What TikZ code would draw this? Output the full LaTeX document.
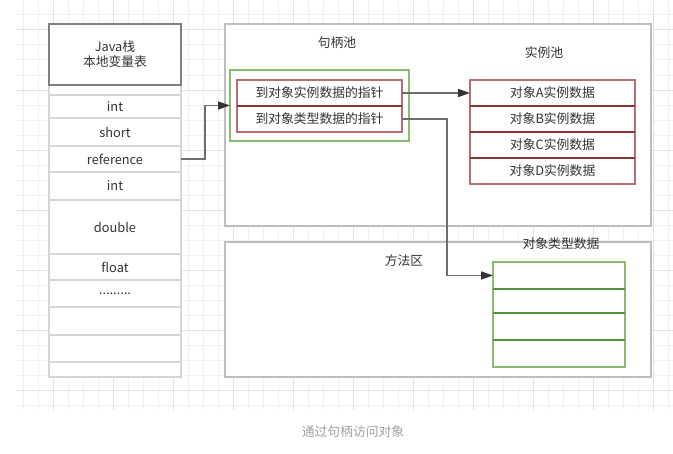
\documentclass[tikz,border=0pt]{standalone}
\usepackage{fontspec}
\setmainfont{Noto Sans CJK SC}
\usetikzlibrary{arrows.meta}
\definecolor{gridminor}{RGB}{240,240,240}
\definecolor{gridmajor}{RGB}{226,226,226}
\definecolor{txt}{RGB}{51,51,51}
\definecolor{headc}{RGB}{128,128,128}
\definecolor{rowc}{RGB}{214,214,214}
\definecolor{poolc}{RGB}{190,190,190}
\definecolor{greenc}{RGB}{136,188,112}
\definecolor{greend}{RGB}{84,150,64}
\definecolor{redc}{RGB}{184,110,110}
\definecolor{redd}{RGB}{140,52,52}
\definecolor{linec}{RGB}{110,110,110}
\definecolor{tipc}{RGB}{51,51,51}
\definecolor{capc}{RGB}{160,160,160}
\begin{document}
\begin{tikzpicture}[x=0.75pt,y=-0.75pt,
  font=\fontsize{9.6}{11.25}\selectfont,
  rect/.style 2 args={rectangle, minimum width=#1*0.75pt, minimum height=#2*0.75pt, inner sep=0pt, outer sep=0pt, text=txt},
  stackrow/.style={draw=rowc, line width=1.5pt, fill=white},
  headbox/.style={draw=headc, line width=1.2pt, fill=white, align=center},
  poolbox/.style={draw=poolc, line width=1.5pt, fill=white},
  grnbox/.style={draw=greenc, line width=1.2pt},
  grnrow/.style={draw=greenc, line width=1.2pt},
  redrow/.style={draw=redc, line width=1.2pt},
  lbl/.style={text=txt, inner sep=0pt},
  conn/.style={draw=linec, line width=1pt, -{Triangle[length=9pt,width=6pt,fill=tipc,color=tipc]}},
]
\useasboundingbox (0,0) rectangle (673,453);
% background grid
\foreach \k in {0,...,43} {
  \pgfmathsetmacro\xx{23+15*\k}
  \draw[gridminor, line width=0.75pt] (\xx,0) -- (\xx,410);
}
\foreach \yy in {15,30,...,405} {
  \draw[gridminor, line width=0.75pt] (16,\yy) -- (673,\yy);
}
\foreach \xx in {53,113,...,653} {
  \draw[gridmajor, line width=0.75pt] (\xx,0) -- (\xx,410);
}
\foreach \yy in {30,90,...,390} {
  \draw[gridmajor, line width=0.75pt] (16,\yy) -- (673,\yy);
}

% Java stack
\node[rect={132}{292}, stackrow] (stk) at (115,231) {};
\node[rect={132}{10}, stackrow] (r0) at (115,90) {};
\node[rect={132}{23}, stackrow] (r1) at (115,106.5) {int};
\node[rect={132}{28}, stackrow] (r2) at (115,132) {short};
\node[rect={132}{26}, stackrow] (r3) at (115,159) {reference};
\node[rect={132}{28}, stackrow] (r4) at (115,186) {int};
\node[rect={132}{54}, stackrow] (r5) at (115,227) {double};
\node[rect={132}{26}, stackrow] (r6) at (115,267) {float};
\node[rect={132}{27}, stackrow] (r7) at (115,293.5) {.........};
\node[rect={132}{28}, stackrow] (r8) at (115,321) {};
\node[rect={132}{27}, stackrow] (r9) at (115,348.5) {};
\node[rect={132}{15}, stackrow] (r10) at (115,369.5) {};
\node[rect={132}{61}, headbox] (head) at (115,54.5) {Java栈\\本地变量表};

% handle pool
\node[rect={426}{202}, poolbox] (hpool) at (438,125) {};
\node[lbl] (hpoollbl) at (337,43) {句柄池};
\node[rect={179}{71}, grnbox] (hgroup) at (319.5,105.5) {};
\node[rect={165}{26}, redrow] (h1) at (319.5,93) {到对象实例数据的指针};
\node[rect={165}{26}, redrow] (h2) at (319.5,119) {到对象类型数据的指针};
\draw[redd, line width=1.2pt] (h1.south west) -- (h1.south east);

% instance pool
\node[lbl] (ipoollbl) at (544,53) {实例池};
\node[rect={165}{26}, redrow] (i1) at (552.5,93) {对象A实例数据};
\node[rect={165}{26}, redrow] (i2) at (552.5,119) {对象B实例数据};
\node[rect={165}{26}, redrow] (i3) at (552.5,145) {对象C实例数据};
\node[rect={165}{26}, redrow] (i4) at (552.5,171) {对象D实例数据};
\draw[redd, line width=1.2pt] (i1.south west) -- (i1.south east);
\draw[redd, line width=1.2pt] (i2.south west) -- (i2.south east);
\draw[redd, line width=1.2pt] (i3.south west) -- (i3.south east);

% method area
\node[rect={426}{135}, poolbox] (marea) at (438,309.5) {};
\node[lbl] (marealbl) at (404,261) {方法区};
\node[rect={132}{27}, grnrow] (t1) at (559,275.5) {};
\node[rect={132}{24}, grnrow] (t2) at (559,301) {};
\node[rect={132}{27}, grnrow] (t3) at (559,326.5) {};
\node[rect={132}{27}, grnrow] (t4) at (559,353.5) {};
\draw[greend, line width=1.2pt] (t1.south west) -- (t1.south east);
\draw[greend, line width=1.2pt] (t2.south west) -- (t2.south east);
\draw[greend, line width=1.2pt] (t3.south west) -- (t3.south east);
\node[lbl] (typelbl) at (561,244) {对象类型数据};

% connectors
\draw[conn] (r3.east) -- ++(24,0) |- (hgroup.west);
\draw[conn] (h1.east) -- (i1.west);
\draw[conn] (h2.east) -- ++(45,0) |- (t1.west);

% caption
\node[lbl, text=capc] (caption) at (353,432) {通过句柄访问对象};
\end{tikzpicture}
\end{document}
